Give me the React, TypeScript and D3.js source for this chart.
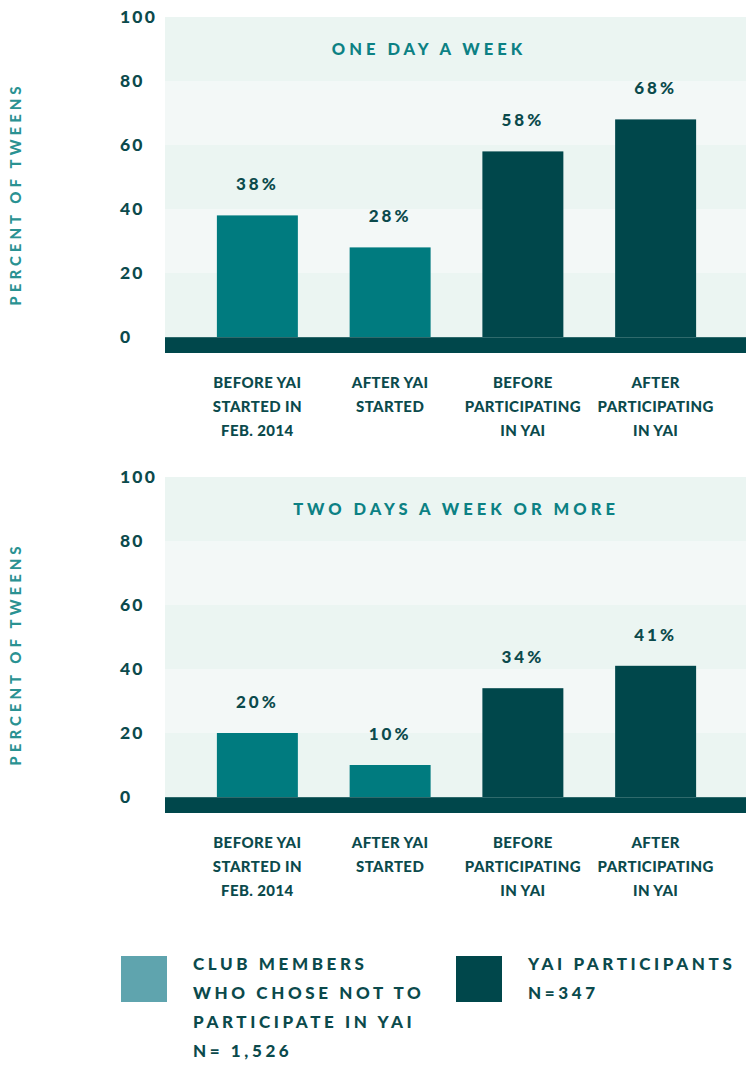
import * as d3 from "d3";

const categories = [
  ["BEFORE YAI", "STARTED IN", "FEB. 2014"],
  ["AFTER YAI", "STARTED"],
  ["BEFORE", "PARTICIPATING", "IN YAI"],
  ["AFTER", "PARTICIPATING", "IN YAI"],
];
const groups = ["club", "club", "yai", "yai"];
const oneDayValues = [38, 28, 58, 68];
const twoDayValues = [20, 10, 34, 41];
const yTicks = [0, 20, 40, 60, 80, 100];
const panelTitles = ["ONE DAY A WEEK", "TWO DAYS A WEEK OR MORE"];
const legendClub = ["CLUB MEMBERS", "WHO CHOSE NOT TO", "PARTICIPATE IN YAI", "N= 1,526"];
const legendYai = ["YAI PARTICIPANTS", "N=347"];

const W = 746;
const H = 1065;
const plotLeft = 165;
const FONT = "Lato, 'Open Sans', sans-serif";
const DARK = "#00474b";
const TEAL = "#007b7f";
const TEXT = "#0b4a4c";
const TITLE = "#0c8184";
const AXIS_T = "#2a9292";
const LEGEND_LIGHT = "#5fa4ae";

function Panel({ top, title, titleX, values }: { top: number; title: string; titleX: number; values: number[] }) {
  const y = d3.scaleLinear().domain([0, 100]).range([top + 320, top]);
  const x = d3
    .scaleBand<number>()
    .domain(d3.range(categories.length))
    .range([191, 722])
    .paddingInner(0.39)
    .paddingOuter(0.195);
  const bands = yTicks.slice(0, -1);

  return (
    <g>
      {bands.map((t, i) => (
        <rect
          key={t}
          x={plotLeft}
          y={y(t + 20)}
          width={W - plotLeft}
          height={y(t) - y(t + 20)}
          fill={i % 2 === 0 ? "#ebf5f2" : "#f3f8f7"}
        />
      ))}
      {yTicks.map((t) => (
        <text
          key={t}
          x={120}
          y={y(t)}
          dy="0.36em"
          fontFamily={FONT}
          fontWeight={900}
          fontSize={17.5}
          letterSpacing={2.2}
          fill={TEXT}
        >
          {t}
        </text>
      ))}
      <text
        transform={`translate(21,${y(50) + 17}) rotate(-90)`}
        textAnchor="middle"
        fontFamily={FONT}
        fontWeight={900}
        fontSize={15}
        letterSpacing={4}
        fill={AXIS_T}
      >
        PERCENT OF TWEENS
      </text>
      <text
        x={titleX}
        y={y(90)}
        dy="0.36em"
        textAnchor="middle"
        fontFamily={FONT}
        fontWeight={900}
        fontSize={16.5}
        letterSpacing={4}
        fill={TITLE}
      >
        {title}
      </text>
      {values.map((v, i) => (
        <g key={i}>
          <rect
            x={x(i)}
            y={y(v)}
            width={x.bandwidth()}
            height={y(0) - y(v)}
            fill={groups[i] === "club" ? TEAL : DARK}
          />
          <text
            x={(x(i) ?? 0) + x.bandwidth() / 2}
            y={y(v) - 25}
            textAnchor="middle"
            fontFamily={FONT}
            fontWeight={900}
            fontSize={17}
            letterSpacing={3}
            fill={TEXT}
          >
            {v}%
          </text>
          {categories[i].map((line, j) => (
            <text
              key={j}
              x={(x(i) ?? 0) + x.bandwidth() / 2}
              y={y(0) + 51 + j * 24}
              textAnchor="middle"
              fontFamily={FONT}
              fontWeight={900}
              fontSize={15}
              letterSpacing={0.4}
              fill={TEXT}
            >
              {line}
            </text>
          ))}
        </g>
      ))}
      <rect x={plotLeft} y={y(0)} width={W - plotLeft} height={16} fill={DARK} />
      <rect x={plotLeft} y={y(0)} width={W - plotLeft} height={1} fill="#2f6a6c" />
    </g>
  );
}

export default function App() {
  const legendText = (lines: string[], x: number) =>
    lines.map((l, i) => (
      <text
        key={i}
        x={x}
        y={964 + i * 29}
        dy="0.36em"
        fontFamily={FONT}
        fontWeight={900}
        fontSize={17}
        letterSpacing={3.6}
        fill={TEXT}
      >
        {l}
      </text>
    ));
  return (
    <svg width={W} height={H} style={{ position: "absolute", left: 0, top: 0 }}>
      <rect width={W} height={H} fill="#fff" />
      <Panel top={17} title={panelTitles[0]} titleX={429} values={oneDayValues} />
      <Panel top={477} title={panelTitles[1]} titleX={456} values={twoDayValues} />
      <rect x={121} y={956} width={46} height={46} fill={LEGEND_LIGHT} />
      {legendText(legendClub, 193)}
      <rect x={456} y={956} width={46} height={46} fill={DARK} />
      {legendText(legendYai, 528)}
    </svg>
  );
}
